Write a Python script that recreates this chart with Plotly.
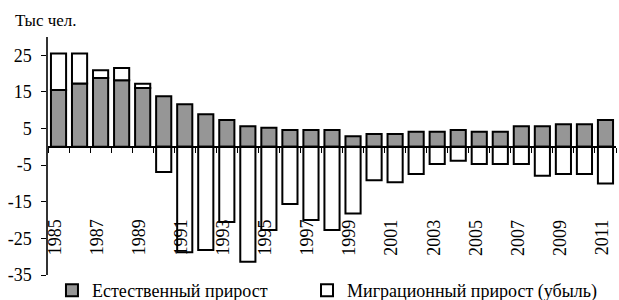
import plotly.graph_objects as go

years = [str(y) for y in range(1985, 2012)]
natural = [15.5, 17.3, 18.8, 18.2, 16.1, 13.8, 11.6, 8.9, 7.3, 5.6, 5.2, 4.6, 4.6, 4.6,
           2.9, 3.5, 3.5, 4.1, 4.1, 4.6, 4.1, 4.1, 5.6, 5.6, 6.2, 6.2, 7.3]
migration = [10.0, 8.2, 2.1, 3.3, 1.1, -6.9, -28.8, -28.2, -20.5, -31.4, -22.7, -15.6,
             -20.0, -22.7, -18.2, -9.1, -9.7, -7.4, -4.7, -3.8, -4.7, -4.7, -4.7, -7.9,
             -7.4, -7.4, -10.0]
year_labels = years[::2]
y_ticks = [25, 15, 5, -5, -15, -25, -35]
series_names = ["Естественный прирост", "Миграционный прирост (убыль)"]
unit_label = "Тыс чел."

FONT = "Liberation Serif"

fig = go.Figure()
fig.add_trace(go.Bar(x=years, y=natural, name=series_names[0], legend="legend",
                     marker=dict(color="#969696", line=dict(color="black", width=2))))
fig.add_trace(go.Bar(x=years, y=migration, name=series_names[1], legend="legend2",
                     marker=dict(color="white", line=dict(color="black", width=2))))

y_min, y_max = -35, 30
zero_pos = (0 - y_min) / (y_max - y_min)

legend_common = dict(orientation="h", xanchor="left", y=-0.065, yanchor="middle",
                     font=dict(family=FONT, size=18, color="black"),
                     bgcolor="rgba(0,0,0,0)")

fig.update_layout(
    width=619, height=300,
    margin=dict(l=48, r=3, t=37, b=25, autoexpand=False),
    paper_bgcolor="white", plot_bgcolor="white",
    barmode="relative", bargap=0.28,
    font=dict(family=FONT, size=18, color="black"),
    showlegend=True,
    legend=dict(x=0.007, **legend_common),
    legend2=dict(x=0.456, **legend_common),
    xaxis=dict(type="category", anchor="free", position=zero_pos,
               range=[-0.5, len(years) - 0.5],
               showline=True, linecolor="black", linewidth=1.5,
               ticks="outside", ticklen=5, tickcolor="black", tickson="boundaries",
               showticklabels=False, showgrid=False, zeroline=False),
    yaxis=dict(range=[y_min, y_max], tickvals=y_ticks,
               ticktext=[str(v) for v in y_ticks],
               showline=True, linecolor="#333333", linewidth=1.5,
               ticks="outside", ticklen=5, tickcolor="black", ticklabelstandoff=6,
               showgrid=False, zeroline=False,
               tickfont=dict(family=FONT, size=18, color="black")),
)

for yl in year_labels:
    fig.add_annotation(x=years.index(yl), y=-24.8, xref="x", yref="y", text=yl,
                       textangle=-90, showarrow=False, xshift=-4,
                       font=dict(family=FONT, size=18, color="black"))

fig.add_annotation(x=-0.062, y=1.07, xref="paper", yref="paper", text=unit_label,
                   xanchor="left", yanchor="middle", showarrow=False,
                   font=dict(family=FONT, size=17, color="black"))

fig.write_html("out.html", config={"displayModeBar": False},
               post_script="document.body.style.margin='0';document.body.style.overflow='hidden';")
